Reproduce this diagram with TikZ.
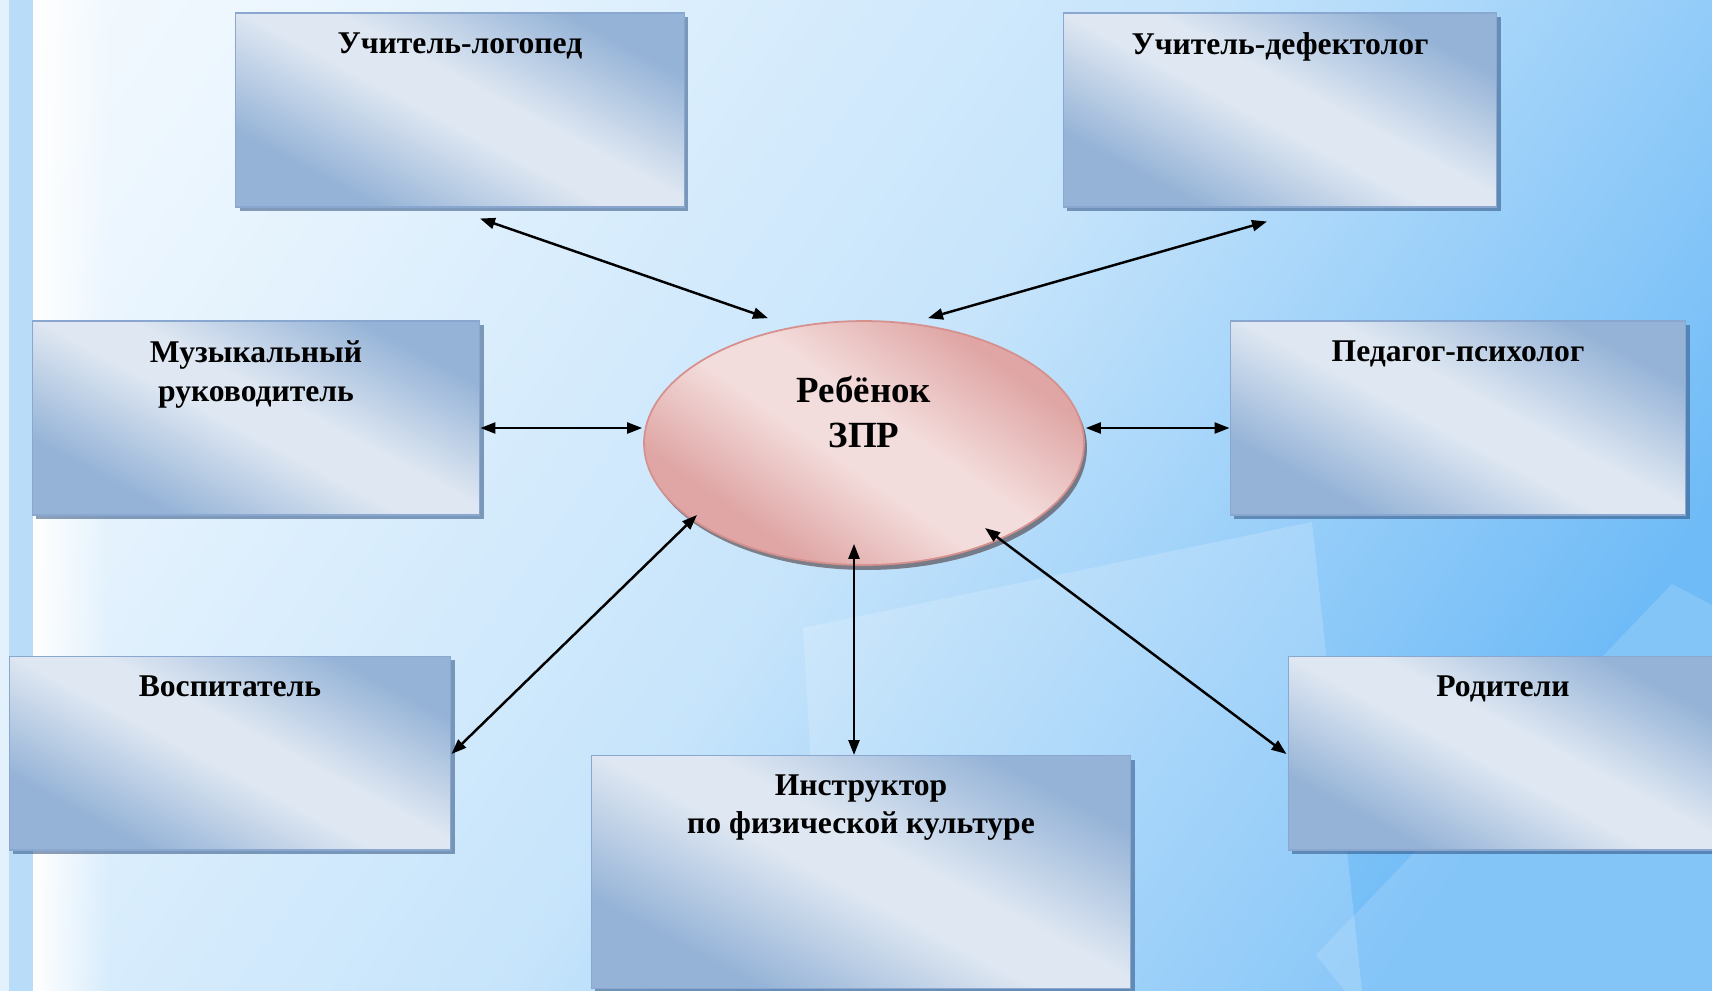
\documentclass[tikz,border=0pt]{standalone}
\usepackage{fontspec}
\setmainfont{Liberation Serif}
\usepackage{tikz}
\usetikzlibrary{arrows.meta, positioning, shapes, shadows, fadings}

\definecolor{boxdark}{HTML}{95B3D7}
\definecolor{boxlight}{HTML}{DEE7F2}
\definecolor{boxline}{HTML}{8AA8CF}
\definecolor{boxshadow}{HTML}{2F5282}
\definecolor{kiddark}{HTML}{DFA6A5}
\definecolor{kidlight}{HTML}{F3DDDC}
\definecolor{kidline}{HTML}{D6908E}
\definecolor{bgA}{HTML}{EEF7FE}
\definecolor{bgB}{HTML}{C6E4FB}
\definecolor{bgC}{HTML}{6FBBF7}
\definecolor{stripblue}{HTML}{B9DDF8}

\pgfdeclarehorizontalshading{boxglow}{100bp}{color(0bp)=(boxdark); color(28bp)=(boxdark); color(47bp)=(boxlight); color(55bp)=(boxlight); color(74bp)=(boxdark); color(100bp)=(boxdark)}
\pgfdeclarehorizontalshading{kidglow}{100bp}{color(0bp)=(kiddark); color(30bp)=(kiddark); color(46bp)=(kidlight); color(55bp)=(kidlight); color(72bp)=(kiddark); color(100bp)=(kiddark)}
\pgfdeclarehorizontalshading{bgglow}{100bp}{color(0bp)=(white); color(22bp)=(bgA); color(50bp)=(bgB); color(75bp)=(bgC); color(100bp)=(bgC)}

\begin{document}
\begin{tikzpicture}[x=0.02cm, y=-0.02cm,
    spec box/.style={rectangle, draw=boxline, line width=0.6pt, shading=boxglow, shading angle=62, minimum height=3.88cm,
        drop shadow={shadow xshift=0.08cm, shadow yshift=-0.08cm, fill=boxshadow, opacity=0.55}},
    child node/.style={ellipse, draw=kidline, line width=1pt, shading=kidglow, shading angle=55, minimum width=8.8cm, minimum height=4.88cm,
        drop shadow={shadow xshift=0.06cm, shadow yshift=-0.1cm, fill=black!70!kidline, opacity=0.55}},
    title/.style={font=\bfseries\fontsize{18}{22}\selectfont, align=center, inner sep=0pt},
    kid title/.style={font=\bfseries\fontsize{21}{26}\selectfont, align=center, inner sep=0pt},
    link/.style={{Triangle[length=0.3cm, width=0.22cm]}-{Triangle[length=0.3cm, width=0.22cm]}, line width=1.4pt, black},
]
    \useasboundingbox (0,0) rectangle (1712,991);
    \clip (0,0) rectangle (1712,991);

    % Background
    \fill[shading=bgglow, shading angle=-35] (0,0) rectangle (1712,991);
    \fill[white, opacity=0.18] (803,628) -- (1312,522) -- (1362,991) -- (824,991) -- cycle;
    \fill[white, opacity=0.15] (1316,955) -- (1672,584) -- (1712,605) -- (1712,991) -- (1345,991) -- cycle;
    \fill[white!60!stripblue] (0,0) rectangle (9,991);
    \fill[stripblue] (9,0) rectangle (33,991);
    \fill[white, path fading=east] (33,0) rectangle (110,991);

    % Specialists
    \node[spec box, minimum width=8.98cm] (logoped) at (460,110) {};
    \node[spec box, minimum width=8.68cm] (defekt) at (1280,110) {};
    \node[spec box, minimum width=8.96cm] (music) at (256,418) {};
    \node[spec box, minimum width=9.12cm] (psych) at (1458,418) {};
    \node[spec box, minimum width=8.84cm] (vosp) at (230,753) {};
    \node[spec box, minimum width=10.8cm, minimum height=4.66cm] (instr) at (861,872) {};
    \node[spec box, minimum width=8.6cm] (parents) at (1503,753) {};

    \node[title, below=0.4cm of logoped.north] (logoped text) {Учитель-логопед};
    \node[title, below=0.4cm of defekt.north] (defekt text) {Учитель-дефектолог};
    \node[title, below=0.4cm of music.north] (music text) {Музыкальный\\руководитель};
    \node[title, below=0.4cm of psych.north] (psych text) {Педагог-психолог};
    \node[title, below=0.4cm of vosp.north] (vosp text) {Воспитатель};
    \node[title, below=0.38cm of instr.north] (instr text) {Инструктор\\по физической культуре};
    \node[title, below=0.4cm of parents.north] (parents text) {Родители};

    % Child
    \node[child node] (child) at (864,443) {};
    \node[kid title] (child text) at ([shift={(0,-31)}]child.center) {Ребёнок\\ЗПР};

    % Links
    \draw[link] ([shift={(20,11)}]logoped.south) -- ([shift={(-96,-2)}]child.north);
    \draw[link] ([shift={(-13,14)}]defekt.south) -- ([shift={(64,-2)}]child.north);
    \draw[link] ([shift={(0,10)}]music.east) -- ([shift={(-1,-15)}]child.west);
    \draw[link] ([shift={(1,-15)}]child.east) -- ([shift={(0,10)}]psych.west);
    \draw[link] ([shift={(0,1)}]vosp.east) -- ([shift={(-167,72)}]child.center);
    \draw[link] ([shift={(-7,0)}]instr.north) -- ([shift={(-10,-22)}]child.south);
    \draw[link] ([shift={(-1,1)}]parents.west) -- ([shift={(121,85)}]child.center);

\end{tikzpicture}
\end{document}
